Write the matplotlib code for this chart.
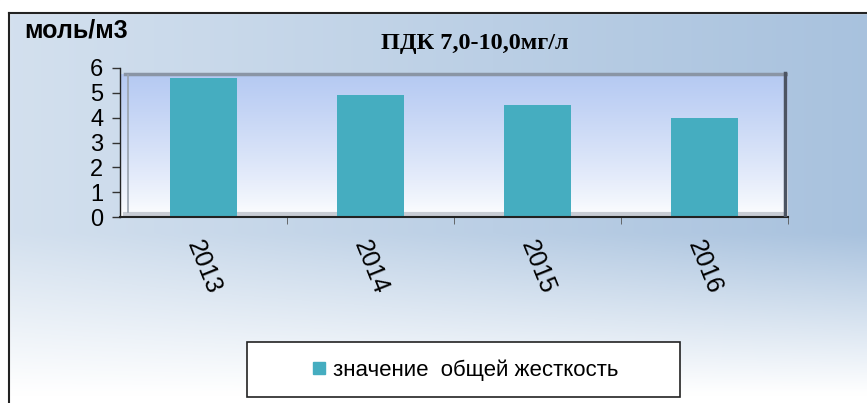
import numpy as np
import matplotlib.pyplot as plt
from matplotlib.patches import Rectangle
from matplotlib.lines import Line2D

# hardness values by year
years = ['2013', '2014', '2015', '2016']
hardness = [5.6, 4.9, 4.5, 4.0]
y_ticks = [0, 1, 2, 3, 4, 5, 6]
title = 'ПДК 7,0-10,0мг/л'
unit = 'моль/м3'
series_name = 'значение  общей жесткость'

bar_color = '#45adc0'

fig = plt.figure(figsize=(8.67, 4.03), dpi=100)

# chart background: blue at the top and right, fading to white at the bottom
bg = fig.add_axes([0, 0, 1, 1])
h, w = 200, 400
yy, xx = np.mgrid[0:h, 0:w]
yt = yy / (h - 1)
xf = xx / (w - 1)
v = np.clip((0.98 - yt) / 0.4, 0, 1) * (0.5 + 0.5 * xf)
v = np.clip(v, 0, 1)
blue = np.array([0.66, 0.76, 0.87])
white = np.array([1.0, 1.0, 1.0])
img = white + (blue - white) * v[..., None]
bg.imshow(img, extent=[0, 1, 0, 1], aspect='auto', origin='upper')
bg.set_xlim(0, 1)
bg.set_ylim(0, 1)
bg.axis('off')
# white margin above and left of the chart border
bg.add_patch(Rectangle((0, 1 - 13 / 403), 1, 13 / 403, color='white', zorder=2))
bg.add_patch(Rectangle((0, 0), 9 / 867, 1, color='white', zorder=2))
bg.plot([9 / 867, 1], [1 - 13 / 403] * 2, color='#222222', lw=1.5, zorder=3)
bg.plot([9 / 867] * 2, [0, 1 - 13 / 403], color='#222222', lw=1.5, zorder=3)

# plot area
ax = fig.add_axes([120 / 867, 1 - 217 / 403, 668 / 867, 149 / 403])
ax.set_xlim(-0.5, 3.5)
ax.set_ylim(0, 6)
grad = np.linspace(0, 1, 100)[:, None]
inner_top = np.array([0.71, 0.79, 0.95])
inner = white + (inner_top - white) * grad[..., None] ** 0.8
ax.imshow(inner * np.ones((1, 2, 1)), extent=[-0.5, 3.5, 0, 5.75],
          aspect='auto', origin='lower', zorder=0)
ax.set_facecolor('none')

ax.bar(range(len(years)), hardness, width=0.4, color=bar_color, zorder=2,
       label=series_name)

# box edges of the plot wall
ax.plot([-0.47, 3.5], [5.75, 5.75], color='#8a95a5', lw=2.5, zorder=3)
ax.plot([3.48, 3.48], [0.05, 5.8], color='#4c5462', lw=2.5, zorder=3)
ax.plot([-0.45, -0.45], [0.2, 5.7], color='#9aa3ae', lw=1.2, zorder=3)
ax.plot([-0.47, 3.48], [0.12, 0.12], color='#c8ccd4', lw=3, zorder=1)

for s in ['top', 'right']:
    ax.spines[s].set_visible(False)
ax.spines['left'].set_color('#222222')
ax.spines['bottom'].set_color('#222222')
ax.spines['left'].set_linewidth(1)
ax.spines['bottom'].set_linewidth(1.5)

ax.set_yticks(y_ticks)
ax.set_yticklabels([str(t) for t in y_ticks], fontsize=17,
                   family='Liberation Sans')
ax.tick_params(axis='y', length=6, width=1, color='#333333', pad=6)

ax.set_xticks(range(len(years)))
ax.set_xticklabels(years, rotation=-68, fontsize=18, family='Liberation Sans',
                   ha='center', va='top')
ax.tick_params(axis='x', which='major', length=0, pad=14)
ax.set_xticks(np.arange(0.5, 4.0, 1.0), minor=True)
ax.tick_params(axis='x', which='minor', length=5, color='#555555')

fig.text(475 / 867, 1 - 44 / 403, title, ha='center', va='center',
         fontsize=17.5, fontweight='bold', family='Liberation Serif')
fig.text(24 / 867, 1 - 30 / 403, unit, ha='left', va='center',
         fontsize=18, fontweight='bold', family='Liberation Sans')

# legend box
bg.add_patch(Rectangle((247 / 867, 1 - 397 / 403), 433 / 867, 55 / 403,
                       facecolor='white', edgecolor='#222222', lw=1.2,
                       zorder=4))
handle = Line2D([], [], marker='s', linestyle='none', markersize=8,
                color=bar_color)
fig.legend([handle], [series_name], loc='center',
           bbox_to_anchor=(463 / 867, 1 - 370 / 403), frameon=False,
           prop={'family': 'Liberation Sans', 'size': 16},
           handletextpad=0.1, handlelength=1.0)

fig.savefig('out.png', dpi=100)
